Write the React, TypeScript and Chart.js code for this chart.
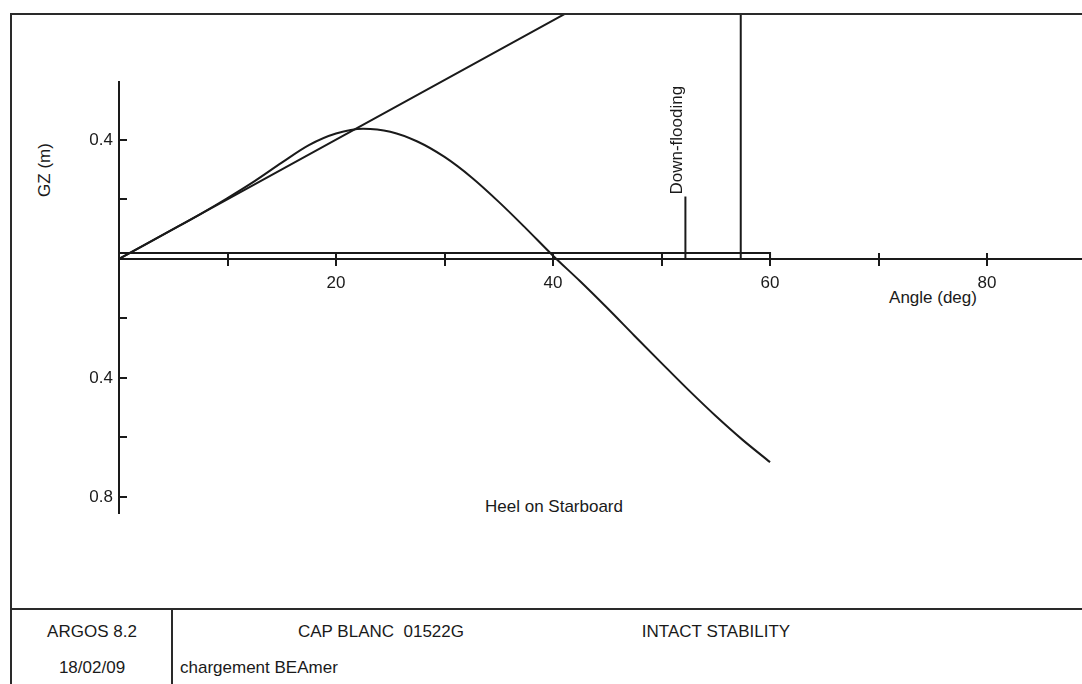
import React, { useEffect, useRef } from "react";
import { Chart, registerables } from "chart.js";

Chart.register(...registerables);

// ---- data ----
const ANGLES = [0, 2.5, 5, 7.5, 10, 12.5, 15, 17.5, 20, 22.5, 25, 27.5, 30, 32.5, 35, 37.5, 40, 42.5, 45, 47.5, 50, 52.5, 55, 57.5, 60];
const GZ = [0, 0.05, 0.1, 0.151, 0.205, 0.262, 0.324, 0.383, 0.422, 0.438, 0.428, 0.395, 0.343, 0.274, 0.192, 0.103, 0.011, -0.075, -0.165, -0.258, -0.35, -0.441, -0.528, -0.609, -0.683];
const GM = 1.149;
const ONE_RADIAN_DEG = 57.3;
const DOWNFLOODING_ANGLE = 52.2;
const DOWNFLOODING_MARK = 0.21;
const BASELINE_LEVEL = 0.02;
const BASELINE_END = 60;
const X_TICKS = [10, 20, 30, 40, 50, 60, 70, 80];
const X_LABELS = [20, 40, 60, 80];
const Y_TICKS = [-0.8, -0.6, -0.4, -0.2, 0, 0.2, 0.4];
const Y_LABELS = [0.4, -0.4, -0.8];
const X_MIN = 0;
const X_MAX = 88.75;
const Y_MIN = -0.854;
const Y_MAX = 0.595;

const FONT = '"Liberation Sans", Arial, sans-serif';
const INK = "#1a1a1a";

const marksPlugin = {
  id: "marks",
  afterDraw(chart: any) {
    const { ctx } = chart;
    const x = chart.scales.x;
    const y = chart.scales.y;
    const y0 = y.getPixelForValue(0);
    const x0 = x.getPixelForValue(0);
    ctx.save();
    ctx.strokeStyle = INK;
    ctx.lineWidth = 2;
    ctx.beginPath();
    X_TICKS.forEach((v) => {
      const px = Math.round(x.getPixelForValue(v));
      ctx.moveTo(px, y0 - 6);
      ctx.lineTo(px, y0 + 7);
    });
    Y_TICKS.forEach((v) => {
      if (v === 0) return;
      const py = Math.round(y.getPixelForValue(v));
      ctx.moveTo(x0, py);
      ctx.lineTo(x0 + 8, py);
    });
    ctx.stroke();

    const dx = x.getPixelForValue(DOWNFLOODING_ANGLE);
    const dy = y.getPixelForValue(DOWNFLOODING_MARK);
    ctx.translate(dx - 3, dy - 2);
    ctx.rotate(-Math.PI / 2);
    ctx.font = `17px ${FONT}`;
    ctx.fillStyle = INK;
    ctx.textAlign = "left";
    ctx.textBaseline = "alphabetic";
    ctx.fillText("Down-flooding", 0, 0);
    ctx.restore();
  },
};

export default function App() {
  const canvasRef = useRef<HTMLCanvasElement | null>(null);

  useEffect(() => {
    const canvas = canvasRef.current;
    if (!canvas) return;
    const gzPoints = ANGLES.map((a, i) => ({ x: a, y: GZ[i] }));
    const gmPoints = [
      { x: 0, y: 0 },
      { x: ONE_RADIAN_DEG, y: GM },
      { x: ONE_RADIAN_DEG, y: 0 },
    ];
    const floodPoints = [
      { x: DOWNFLOODING_ANGLE, y: 0 },
      { x: DOWNFLOODING_ANGLE, y: DOWNFLOODING_MARK },
    ];
    const basePoints = [
      { x: 0, y: BASELINE_LEVEL },
      { x: BASELINE_END, y: BASELINE_LEVEL },
      { x: BASELINE_END, y: 0 },
    ];
    const lineStyle = {
      borderColor: INK,
      borderWidth: 2,
      pointRadius: 0,
      fill: false,
    };
    const chart = new Chart(canvas, {
      type: "line",
      data: {
        datasets: [
          { ...lineStyle, label: "GZ", data: gzPoints, cubicInterpolationMode: "monotone" } as any,
          { ...lineStyle, label: "GM", data: gmPoints, tension: 0, clip: { left: 0, top: 67, right: 0, bottom: 0 } } as any,
          { ...lineStyle, label: "Down-flooding", data: floodPoints, tension: 0 } as any,
          { ...lineStyle, label: "base", data: basePoints, tension: 0 } as any,
        ],
      },
      options: {
        responsive: false,
        animation: false,
        devicePixelRatio: 1,
        layout: { padding: { left: 0, right: 0, top: 82, bottom: 171 } },
        plugins: { legend: { display: false }, tooltip: { enabled: false } },
        scales: {
          x: {
            type: "linear",
            min: X_MIN,
            max: X_MAX,
            position: { y: 0 } as any,
            afterBuildTicks: (s: any) => {
              s.ticks = X_TICKS.map((v) => ({ value: v }));
            },
            grid: { display: true, drawOnChartArea: false, drawTicks: false },
            border: { display: true, color: INK, width: 2 },
            ticks: {
              padding: 14,
              color: INK,
              font: { family: FONT, size: 17 },
              maxRotation: 0,
              autoSkip: false,
              callback: (v: any) => (X_LABELS.includes(Number(v)) ? String(v) : ""),
            },
          },
          y: {
            type: "linear",
            min: Y_MIN,
            max: Y_MAX,
            position: "left",
            afterFit: (s: any) => {
              s.width = 119;
            },
            afterBuildTicks: (s: any) => {
              s.ticks = Y_TICKS.map((v) => ({ value: v }));
            },
            grid: { display: true, drawOnChartArea: false, drawTicks: false },
            border: { display: true, color: INK, width: 2 },
            ticks: {
              padding: 6,
              color: INK,
              font: { family: FONT, size: 17 },
              autoSkip: false,
              callback: (v: any) => {
                const n = Number(v);
                const hit = Y_LABELS.find((l) => Math.abs(l - n) < 1e-6);
                return hit !== undefined ? Math.abs(hit).toFixed(1) : "";
              },
            },
          },
        },
      },
      plugins: [marksPlugin],
    });
    return () => chart.destroy();
  }, []);

  const text: React.CSSProperties = {
    position: "absolute",
    fontSize: 17,
    color: INK,
    whiteSpace: "pre",
    lineHeight: "20px",
  };
  const line = "#2a2a2a";

  return (
    <div
      style={{
        position: "fixed",
        left: 0,
        top: 0,
        width: 1082,
        height: 684,
        background: "#fff",
        overflow: "hidden",
        fontFamily: FONT,
      }}
    >
      {/* frame */}
      <div style={{ position: "absolute", left: 10, top: 13, width: 1072, height: 2, background: line }} />
      <div style={{ position: "absolute", left: 10, top: 13, width: 2, height: 671, background: line }} />
      <div style={{ position: "absolute", left: 10, top: 608, width: 1072, height: 2, background: line }} />
      <div style={{ position: "absolute", left: 171, top: 609, width: 2, height: 75, background: line }} />

      {/* texts */}
      <div style={{ ...text, left: 45, top: 170, transform: "translate(-50%,-50%) rotate(-90deg)" }}>GZ (m)</div>
      <div style={{ ...text, left: 933, top: 298, transform: "translate(-50%,-50%)" }}>Angle (deg)</div>
      <div style={{ ...text, left: 554, top: 507, transform: "translate(-50%,-50%)" }}>Heel on Starboard</div>

      <div style={{ ...text, left: 92, top: 632, transform: "translate(-50%,-50%)" }}>ARGOS 8.2</div>
      <div style={{ ...text, left: 92, top: 668, transform: "translate(-50%,-50%)" }}>18/02/09</div>
      <div style={{ ...text, left: 381, top: 632, transform: "translate(-50%,-50%)" }}>CAP BLANC  01522G</div>
      <div style={{ ...text, left: 716, top: 632, transform: "translate(-50%,-50%)" }}>INTACT STABILITY</div>
      <div style={{ ...text, left: 180, top: 668, transform: "translate(0,-50%)" }}>chargement BEAmer</div>

      <canvas
        ref={canvasRef}
        width={1082}
        height={684}
        style={{ position: "absolute", left: 0, top: 0, width: 1082, height: 684, display: "block" }}
      />
    </div>
  );
}
